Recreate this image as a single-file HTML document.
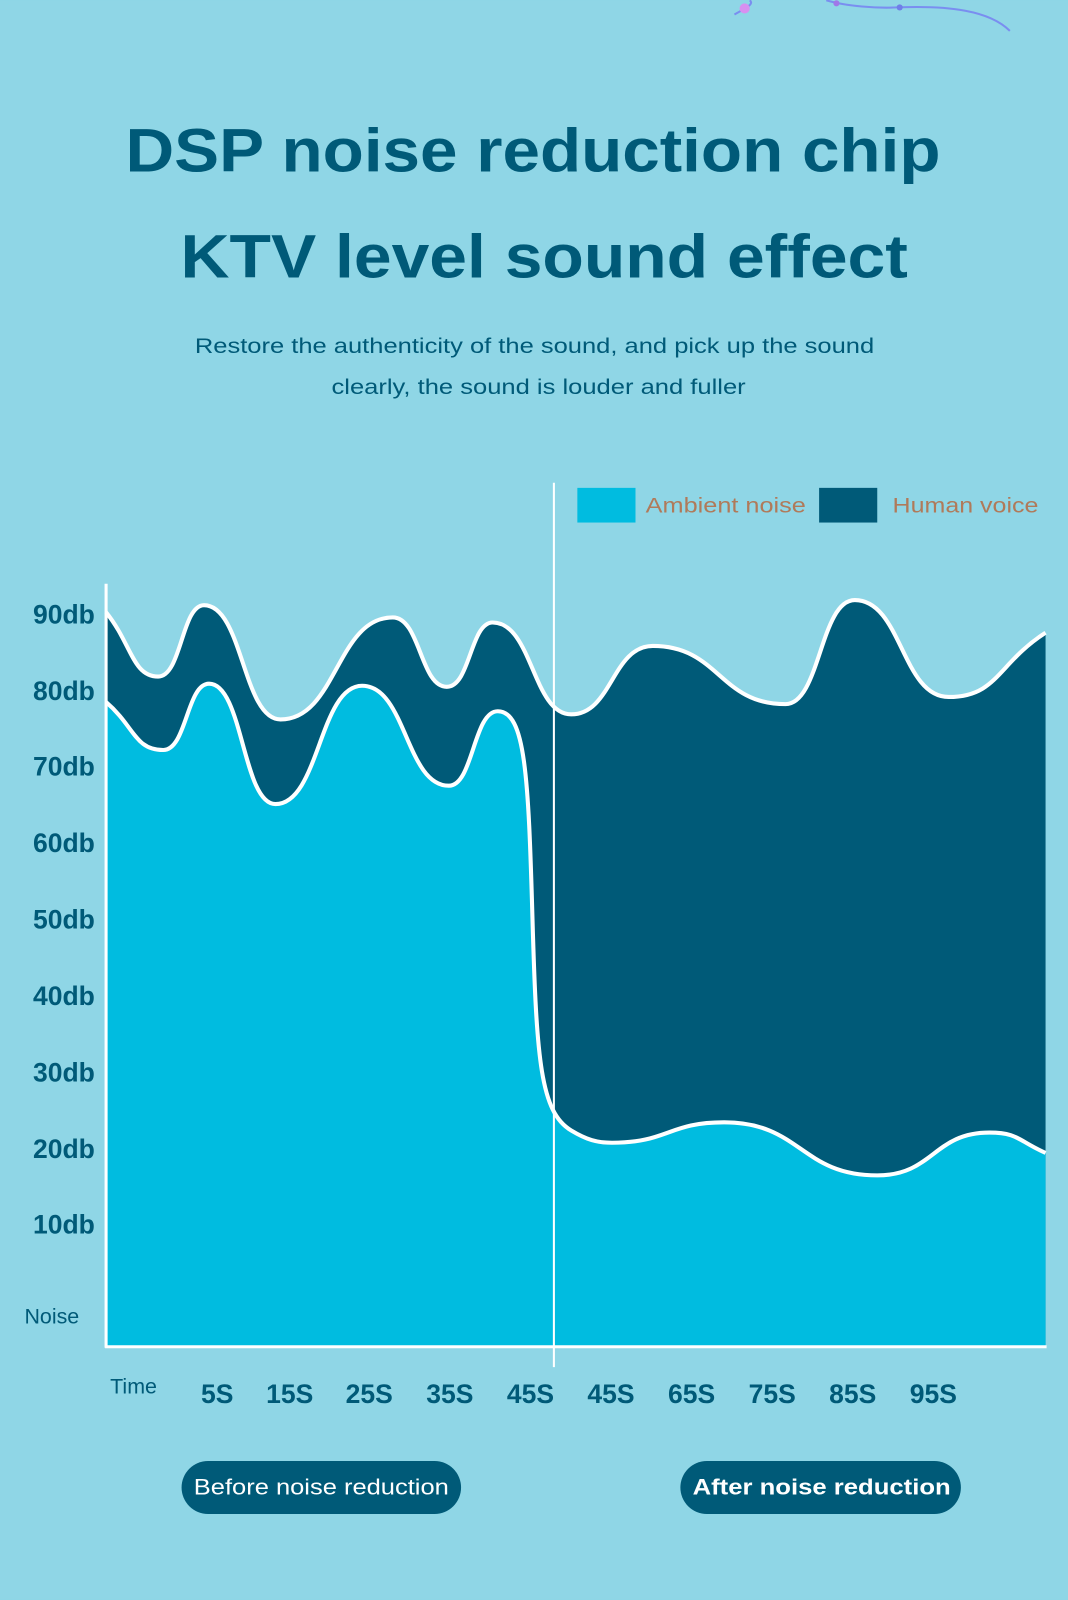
<!DOCTYPE html>
<html><head><meta charset="utf-8"><style>
html,body{margin:0;padding:0;background:#8fd6e6;}
svg{display:block}
text{font-family:"Liberation Sans",sans-serif;}
</style></head><body>
<svg width="1068" height="1600" viewBox="0 0 1047 1568" xmlns="http://www.w3.org/2000/svg">
<rect width="1047" height="1568" fill="#8fd6e6"/>
<path d="M720,14 C730,8 740,4 735,0 M810,0 C830,6 860,8 880,7 C930,5 970,10 990,30" fill="none" stroke="#7a8ef0" stroke-width="2"/>
<circle cx="730" cy="8" r="5" fill="#d890f0"/><circle cx="820" cy="3" r="3" fill="#a078e8"/><circle cx="882" cy="7" r="3" fill="#6f7fe8"/>
<text x="123" y="168" textLength="799" lengthAdjust="spacingAndGlyphs" font-size="60" font-weight="bold" fill="#005a78">DSP noise reduction chip</text>
<text x="177" y="272" textLength="713" lengthAdjust="spacingAndGlyphs" font-size="60" font-weight="bold" fill="#005a78">KTV level sound effect</text>
<text x="191" y="346" textLength="666" lengthAdjust="spacingAndGlyphs" font-size="21" fill="#005a78">Restore the authenticity of the sound, and pick up the sound</text>
<text x="325" y="386" textLength="406" lengthAdjust="spacingAndGlyphs" font-size="21" fill="#005a78">clearly, the sound is louder and fuller</text>
<rect x="566" y="478" width="57" height="34" fill="#00bce0"/>
<text x="633" y="502" textLength="157" lengthAdjust="spacingAndGlyphs" font-size="21" fill="#b07a5a">Ambient noise</text>
<rect x="803" y="478" width="57" height="34" fill="#005a78"/>
<text x="875" y="502" textLength="143" lengthAdjust="spacingAndGlyphs" font-size="21" fill="#b07a5a">Human voice</text>
<path d="M104,600 C129,631 130,663 155,663 C178,663 178,593 200,593 C238,593 238,705 275,705 C330,705 330,605 385,605 C412,605 412,673 438,673 C461,673 461,610 483,610 C522,610 522,700 560,700 C600,700 600,633 640,633 C705,633 705,690 770,690 C804,690 804,588 838,588 C884,588 884,683 930,683 C978,683 978,650 1025,620 L1025,1320 L104,1320 Z" fill="#005a78"/>
<path d="M104,688 C132,712 132,735 160,735 C183,735 183,670 205,670 C238,670 238,788 270,788 C313,788 313,672 355,672 C398,672 398,770 440,770 C464,770 464,697 488,697 C515,697 518,760 522,900 C526,1040 530,1090 560,1108 C575,1117 585,1120 600,1120 C655,1120 655,1100 710,1100 C785,1100 785,1152 860,1152 C915,1152 915,1110 970,1110 C998,1110 998,1118 1025,1130 L1025,1320 L104,1320 Z" fill="#00bce0"/>
<path d="M104,600 C129,631 130,663 155,663 C178,663 178,593 200,593 C238,593 238,705 275,705 C330,705 330,605 385,605 C412,605 412,673 438,673 C461,673 461,610 483,610 C522,610 522,700 560,700 C600,700 600,633 640,633 C705,633 705,690 770,690 C804,690 804,588 838,588 C884,588 884,683 930,683 C978,683 978,650 1025,620" fill="none" stroke="#fff" stroke-width="4"/>
<path d="M104,688 C132,712 132,735 160,735 C183,735 183,670 205,670 C238,670 238,788 270,788 C313,788 313,672 355,672 C398,672 398,770 440,770 C464,770 464,697 488,697 C515,697 518,760 522,900 C526,1040 530,1090 560,1108 C575,1117 585,1120 600,1120 C655,1120 655,1100 710,1100 C785,1100 785,1152 860,1152 C915,1152 915,1110 970,1110 C998,1110 998,1118 1025,1130" fill="none" stroke="#fff" stroke-width="4"/>
<line x1="104" y1="572" x2="104" y2="1321" stroke="#fff" stroke-width="3"/>
<line x1="103" y1="1320" x2="1026" y2="1320" stroke="#fff" stroke-width="3"/>
<line x1="543" y1="473" x2="543" y2="1340" stroke="#fff" stroke-width="2"/>
<g font-size="26" font-weight="bold" fill="#005a78" text-anchor="end">
<text x="93" y="611">90db</text><text x="93" y="686">80db</text><text x="93" y="760">70db</text>
<text x="93" y="835">60db</text><text x="93" y="910">50db</text><text x="93" y="985">40db</text>
<text x="93" y="1060">30db</text><text x="93" y="1135">20db</text><text x="93" y="1209">10db</text>
</g>
<text x="24" y="1297" font-size="21" fill="#005a78">Noise</text>
<text x="108" y="1366" font-size="21" fill="#005a78">Time</text>
<g font-size="26" font-weight="bold" fill="#005a78" text-anchor="middle">
<text x="213" y="1375">5S</text><text x="284" y="1375">15S</text><text x="362" y="1375">25S</text>
<text x="441" y="1375">35S</text><text x="520" y="1375">45S</text><text x="599" y="1375">45S</text>
<text x="678" y="1375">65S</text><text x="757" y="1375">75S</text><text x="836" y="1375">85S</text>
<text x="915" y="1375">95S</text>
</g>
<rect x="178" y="1432" width="274" height="52" rx="26" fill="#005a78"/>
<text x="190" y="1465" textLength="250" lengthAdjust="spacingAndGlyphs" font-size="22" fill="#fff">Before noise reduction</text>
<rect x="667" y="1432" width="275" height="52" rx="26" fill="#005a78"/>
<text x="679" y="1465" textLength="253" lengthAdjust="spacingAndGlyphs" font-size="22" font-weight="bold" fill="#fff">After noise reduction</text>
</svg>
</body></html>
